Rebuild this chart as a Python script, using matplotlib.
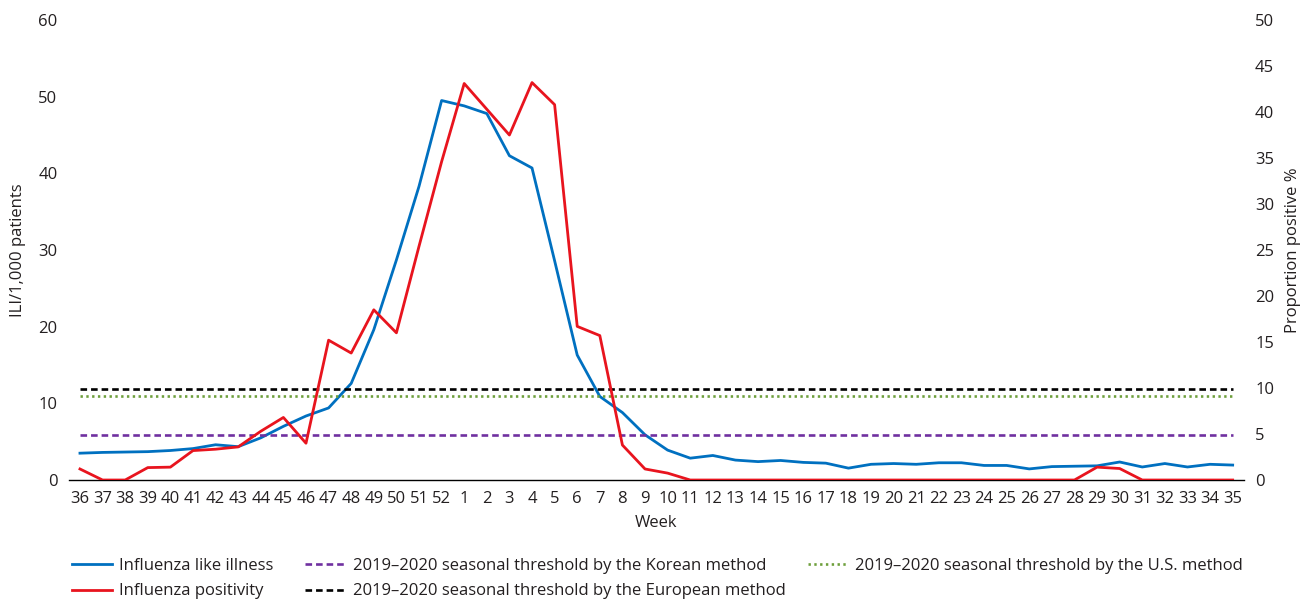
import matplotlib.pyplot as plt

# --- data ---
weeks = [str(w) for w in range(36, 53)] + [str(w) for w in range(1, 36)]

ili = [3.5, 3.6, 3.65, 3.7, 3.85, 4.1, 4.6, 4.35, 5.5, 7.0, 8.35, 9.4, 12.6, 19.6, 28.7, 38.3, 49.5,
       48.8, 47.8, 42.3, 40.7, 28.6, 16.3, 10.9, 8.8, 5.9, 3.9,
       2.85, 3.2, 2.6, 2.4, 2.55, 2.3, 2.2, 1.55, 2.05, 2.15,
       2.05, 2.25, 2.25, 1.9, 1.9, 1.45, 1.75, 1.8, 1.85, 2.35,
       1.7, 2.15, 1.7, 2.05, 1.95]

positivity = [1.2, 0, 0, 1.35, 1.4, 3.2, 3.35, 3.6, 5.3, 6.8, 4.0, 15.2, 13.8, 18.5, 16.0, 25.4, 34.6,
              43.1, 40.3, 37.5, 43.2, 40.8, 16.7, 15.7, 3.8, 1.2, 0.75,
              0, 0, 0, 0, 0, 0, 0, 0, 0, 0,
              0, 0, 0, 0, 0, 0, 0, 0, 1.4, 1.25,
              0, 0, 0, 0, 0]

threshold_korean = 5.9
threshold_us = 11.0
threshold_european = 11.9

# --- style ---
plt.rcParams['font.family'] = ['Open Sans', 'DejaVu Sans']
plt.rcParams['font.size'] = 12

BLUE = '#0070C0'
RED = '#E8141E'
PURPLE = '#7030A0'
GREEN = '#6E9F3C'
TEXT = '#231F20'

fig = plt.figure(figsize=(13.03, 6.01), dpi=100)
ax = fig.add_axes([0.0527, 0.2013, 0.902, 0.7654])
ax2 = ax.twinx()

x = list(range(len(weeks)))
n = len(weeks)

l_ili, = ax.plot(x, ili, color=BLUE, lw=2.0, label='Influenza like illness')
l_kor, = ax.plot([0, n - 1], [threshold_korean] * 2, color=PURPLE, lw=1.9, dashes=(2.5, 1.5),
                 label='2019\u20132020 seasonal threshold by the Korean method')
l_us, = ax.plot([0, n - 1], [threshold_us] * 2, color=GREEN, lw=1.9, dashes=(0.9, 1.3),
                label='2019\u20132020 seasonal threshold by the U.S. method')
l_eu, = ax.plot([0, n - 1], [threshold_european] * 2, color='black', lw=1.9, dashes=(2.5, 1.5),
                label='2019\u20132020 seasonal threshold by the European method')
l_pos, = ax2.plot(x, positivity, color=RED, lw=2.0, label='Influenza positivity')

ax.set_xlim(-0.5, n - 0.5)
ax.set_ylim(0, 60)
ax2.set_ylim(0, 50)
ax.set_yticks(range(0, 61, 10))
ax2.set_yticks(range(0, 51, 5))
ax.set_xticks(x)
ax.set_xticklabels(weeks)

for a in (ax, ax2):
    for s in a.spines.values():
        s.set_visible(False)
ax.spines['bottom'].set_visible(True)
ax.spines['bottom'].set_linewidth(1.0)

ax.tick_params(axis='both', length=0, labelcolor=TEXT)
ax.tick_params(axis='y', pad=8)
ax.tick_params(axis='x', pad=8)
ax2.tick_params(axis='y', length=0, pad=8, labelcolor=TEXT)

ax.set_xlabel('Week', labelpad=6, color=TEXT)
ax.set_ylabel('ILI/1,000 patients', labelpad=9, color=TEXT)
ax2.set_ylabel('Proportion positive %', labelpad=8, color=TEXT)

# --- legends (two blocks so the third column sits where the reference has it) ---
leg_kw = dict(frameon=False, fontsize=12, handlelength=2.4, handletextpad=0.45,
              labelspacing=0.55, borderpad=0, borderaxespad=0, loc='upper left',
              labelcolor=TEXT)
leg1 = fig.legend([l_ili, l_pos, l_kor, l_eu],
                  [l_ili.get_label(), l_pos.get_label(), l_kor.get_label(), l_eu.get_label()],
                  ncol=2, columnspacing=1.9, bbox_to_anchor=(0.055, 0.071), **leg_kw)
leg2 = fig.legend([l_us], [l_us.get_label()], bbox_to_anchor=(0.62, 0.071), **leg_kw)

fig.savefig('out.png', dpi=100)
